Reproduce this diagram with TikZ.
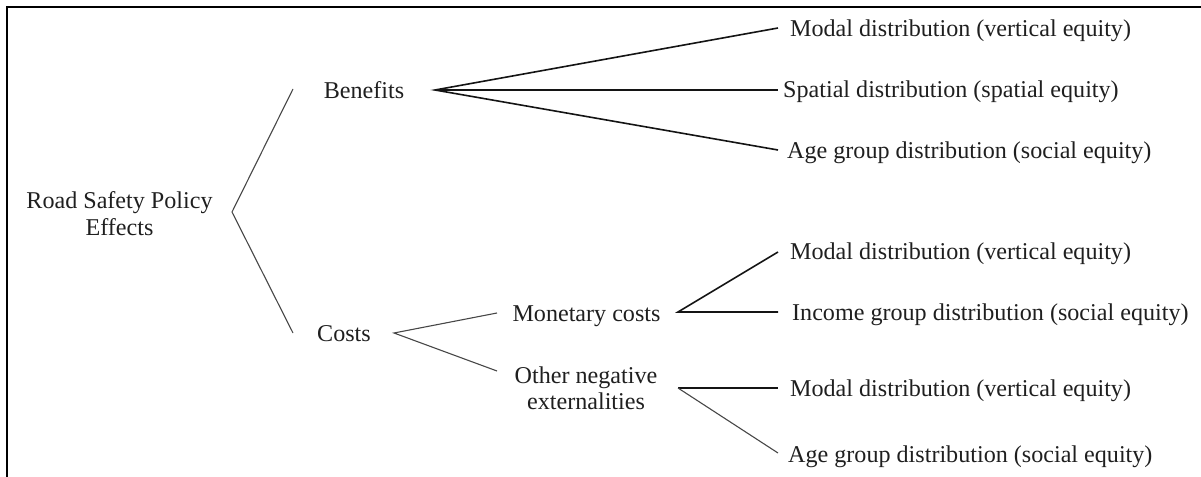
\documentclass[tikz,border=0pt]{standalone}
\usepackage{fontspec}
\setmainfont{Liberation Serif}
\begin{document}
\begin{tikzpicture}[x=1bp,y=-1bp,
  txt/.style={inner sep=0pt, text=black!88, font=\fontsize{24.2}{27}\selectfont},
  lbl/.style={txt, anchor=west, text height=16bp, text depth=0pt},
  mid/.style={txt, anchor=center, text height=16bp, text depth=0pt},
  two/.style={txt, anchor=center, align=center},
  dark/.style={draw=black!92, line width=1.6bp},
  light/.style={draw=black!72, line width=1.1bp},
  frame/.style={draw=black, line width=2bp}]
\useasboundingbox (0,0) rectangle (1201,477);
% frame (top and left edges)
\draw[frame] (7,478) -- (7,7) -- (1202,7);

% texts
\node[two] (root) at (119.5,213.4) {Road Safety Policy\\Effects};
\node[mid] (ben) at (364,90.5) {Benefits};
\node[mid] (cost) at (344,333.5) {Costs};
\node[mid] (mon) at (586.5,313.5) {Monetary costs};
\node[two] (oth) at (586,388.3) {Other negative\\externalities};

\node[lbl] (m1) at (790,29) {Modal distribution (vertical equity)};
\node[lbl] (s1) at (783,90) {Spatial distribution (spatial equity)};
\node[lbl] (a1) at (787,151) {Age group distribution (social equity)};
\node[lbl] (m2) at (790,252) {Modal distribution (vertical equity)};
\node[lbl] (i2) at (792,313) {Income group distribution (social equity)};
\node[lbl] (m3) at (790,388) {Modal distribution (vertical equity)};
\node[lbl] (a3) at (788,454) {Age group distribution (social equity)};

% junction points
\coordinate (rootJ) at (232,212);
\coordinate (benL) at (293,89);
\coordinate (costL) at (293,333);
\coordinate (benJ) at (435,90);
\coordinate (costJ) at (394,333);
\coordinate (monL) at (497,313);
\coordinate (othL) at (497,371);
\coordinate (monJ) at (678,312);
\coordinate (othJ) at (678,388);
\coordinate (m1L) at (778,28);
\coordinate (s1L) at (778,90);
\coordinate (a1L) at (778,150);
\coordinate (m2L) at (778,252);
\coordinate (i2L) at (778,312);
\coordinate (m3L) at (778,388);
\coordinate (a3L) at (778,453);

% connectors
\draw[light] (benL) -- (rootJ) -- (costL);
\draw[dark] (m1L) -- (benJ) -- (a1L);
\draw[dark] (benJ) -- (s1L);
\draw[light] (monL) -- (costJ) -- (othL);
\draw[dark] (m2L) -- (monJ) -- (i2L);
\draw[dark] (othJ) -- (m3L);
\draw[light] (othJ) -- (a3L);
\end{tikzpicture}
\end{document}
